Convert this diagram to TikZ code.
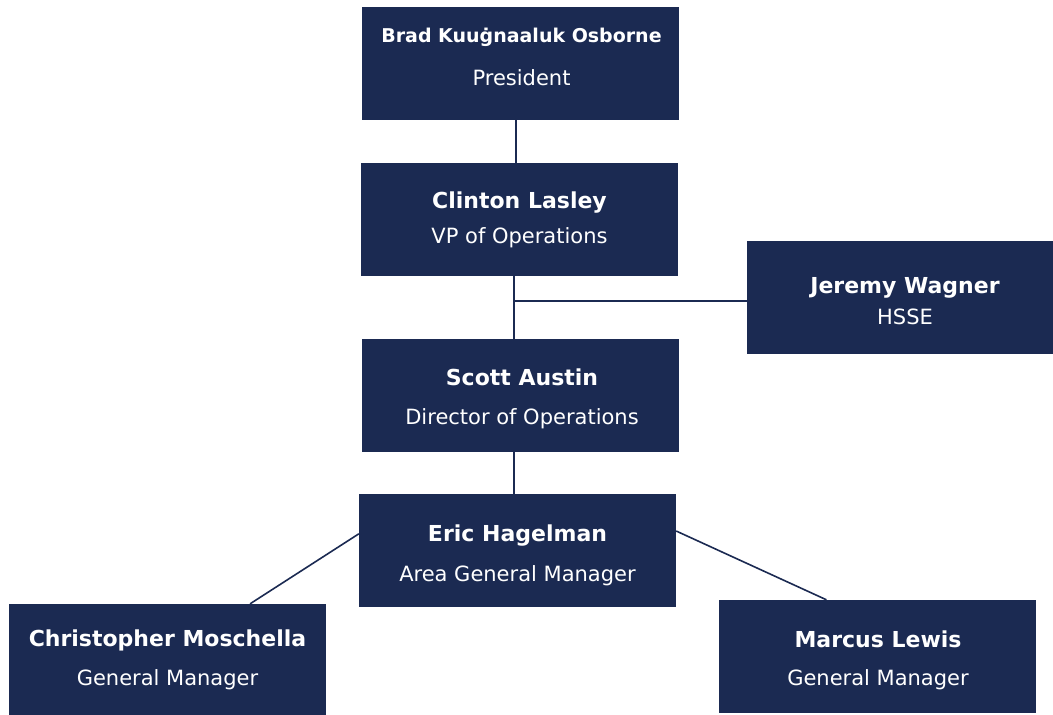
\documentclass[tikz,border=0pt]{standalone}
\usepackage{fontspec}
\setmainfont{DejaVu Sans}
\definecolor{navy}{HTML}{1B2A52}
\newcommand{\who}[1]{{\fontsize{22}{35}\selectfont\bfseries #1}}
\tikzset{
  person/.style={fill=navy, minimum width=317pt, minimum height=113pt, inner sep=0pt},
  card/.style={text=white, inner sep=0pt, align=center, font=\fontsize{21}{35}\selectfont},
  link/.style={draw=navy, line width=1.6pt}
}
\begin{document}
\begin{tikzpicture}[x=1pt,y=-1pt]
    \useasboundingbox (0,0) rectangle (1053,715);
    % boxes
    \node[person] at (520.5,63) (President) {};
    \node[person] at (519.5,219.5) (Clinton) {};
    \node[person, minimum width=306pt] at (900,297.5) (Jeremy) {};
    \node[person] at (520.5,395.5) (Scott) {};
    \node[person] at (517.5,550.5) (Eric) {};
    \node[person, minimum height=111pt] at (167.5,659.5) (Christopher) {};
    \node[person] at (877.5,656.5) (Marcus) {};
    % texts
    \node[card] at (521.5,57) (President-txt) {{\fontsize{19}{35}\selectfont\bfseries Brad Kuuġnaaluk Osborne}\\[8pt]President};
    \node[card] at (519.5,219.5) (Clinton-txt) {\who{Clinton Lasley}\\VP of Operations};
    \node[card] at (905,301) (Jeremy-txt) {\who{Jeremy Wagner}\\[-4pt]HSSE};
    \node[card] at (522,398.5) (Scott-txt) {\who{Scott Austin}\\[4pt]Director of Operations};
    \node[card] at (517.5,555.5) (Eric-txt) {\who{Eric Hagelman}\\[5pt]Area General Manager};
    \node[card] at (167.5,660) (Christopher-txt) {\who{Christopher Moschella}\\[4pt]General Manager};
    \node[card] at (878,660.5) (Marcus-txt) {\who{Marcus Lewis}\\[3pt]General Manager};
    % lines
    \coordinate (branch) at (514,301);
    \draw[link] ([xshift=-4.5pt]President.south) -- ([xshift=-3.5pt]Clinton.north);
    \draw[link] ([xshift=-5.5pt]Clinton.south) -- ([xshift=-6.5pt]Scott.north);
    \draw[link] (branch) -- (branch -| Jeremy.west);
    \draw[link] ([xshift=-6.5pt]Scott.south) -- ([xshift=-3.5pt]Eric.north);
    \draw[link] (Eric.174) -- (Christopher.34);
    \draw[link] (Eric.7) -- (Marcus.132);
\end{tikzpicture}
\end{document}
